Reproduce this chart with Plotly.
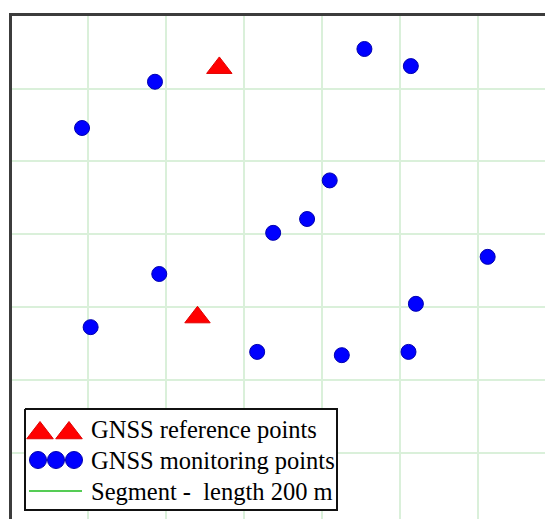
import plotly.graph_objects as go

# ---- data (metres) ----
mon_x = [373, 910, 1029, 186, 821, 763, 676, 1226, 384, 1042, 208, 635, 852, 1023]
mon_y = [1019, 1109, 1062, 892, 748, 642, 604, 538, 491, 409, 345, 277, 268, 277]
ref_x = [538, 482]
ref_y = [1057, 372]
grid_x = [200, 400, 600, 800, 1000, 1200]
grid_y = [0, 200, 400, 600, 800, 1000]
legend_labels = ["GNSS reference points", "GNSS monitoring points", "Segment -\u00a0 length 200 m"]

W, H = 545, 519
L_PX, T_PX = 12, 15.5
x_range = [6.4, 1373]
y_range = [-182, 1201]

fig = go.Figure()
fig.add_trace(go.Scatter(x=mon_x, y=mon_y, mode="markers", showlegend=False,
                         marker=dict(symbol="circle", size=15, color="#0000ff",
                                     line=dict(color="#0000b0", width=1))))
fig.add_trace(go.Scatter(x=ref_x, y=ref_y, mode="markers", showlegend=False,
                         marker=dict(symbol="triangle-up", size=22, color="#ff0000",
                                     line=dict(color="#e00000", width=1))))

# ---- manual legend on a pixel-based overlay axis ----
box = dict(x0=25, x1=337, y0=409, y1=510)
fig.add_trace(go.Scatter(x=[box["x0"], box["x1"], box["x1"], box["x0"], box["x0"]],
                         y=[box["y0"], box["y0"], box["y1"], box["y1"], box["y0"]],
                         xaxis="x2", yaxis="y2", mode="lines", fill="toself",
                         fillcolor="white", line=dict(color="#111111", width=2),
                         showlegend=False, hoverinfo="skip"))
fig.add_trace(go.Scatter(x=[40, 69], y=[433, 433], xaxis="x2", yaxis="y2", mode="markers",
                         marker=dict(symbol="triangle-up", size=23, color="#ff0000",
                                     line=dict(color="#e00000", width=1)),
                         showlegend=False, hoverinfo="skip"))
fig.add_trace(go.Scatter(x=[38, 56, 74], y=[460, 460, 460], xaxis="x2", yaxis="y2",
                         mode="markers",
                         marker=dict(symbol="circle", size=17, color="#0000ff",
                                     line=dict(color="#0000b0", width=1)),
                         showlegend=False, hoverinfo="skip"))
fig.add_trace(go.Scatter(x=[29, 82], y=[491, 491], xaxis="x2", yaxis="y2", mode="lines",
                         line=dict(color="#55cc55", width=2),
                         showlegend=False, hoverinfo="skip"))
for lab, yy in zip(legend_labels, [429, 460, 491]):
    fig.add_annotation(x=89, y=yy, xref="x2", yref="y2", text=lab, showarrow=False,
                       xanchor="left", yanchor="middle",
                       font=dict(family="Liberation Serif", size=24.5, color="black"))

fig.update_layout(
    width=W, height=H, autosize=False,
    margin=dict(l=0, r=0, t=0, b=0, pad=0),
    paper_bgcolor="white", plot_bgcolor="white",
    showlegend=False,
    xaxis=dict(domain=[L_PX / W, 1], range=x_range, side="top",
               showline=True, linecolor="#3c3c3c", linewidth=2.5,
               showticklabels=False, ticks="", zeroline=False,
               tickvals=grid_x, showgrid=True, gridcolor="rgb(218,240,218)", gridwidth=1.6),
    yaxis=dict(domain=[0, 1 - T_PX / H], range=y_range,
               showline=True, linecolor="#3c3c3c", linewidth=2.5,
               showticklabels=False, ticks="", zeroline=False,
               tickvals=grid_y, showgrid=True, gridcolor="rgb(218,240,218)", gridwidth=1.6),
    xaxis2=dict(overlaying="x", range=[L_PX, W], visible=False, showgrid=False,
                zeroline=False),
    yaxis2=dict(overlaying="y", range=[H, T_PX], visible=False, showgrid=False,
                zeroline=False),
)

fig.write_html("out.html", config={"displayModeBar": False},
               post_script="document.body.style.margin='0px';")
